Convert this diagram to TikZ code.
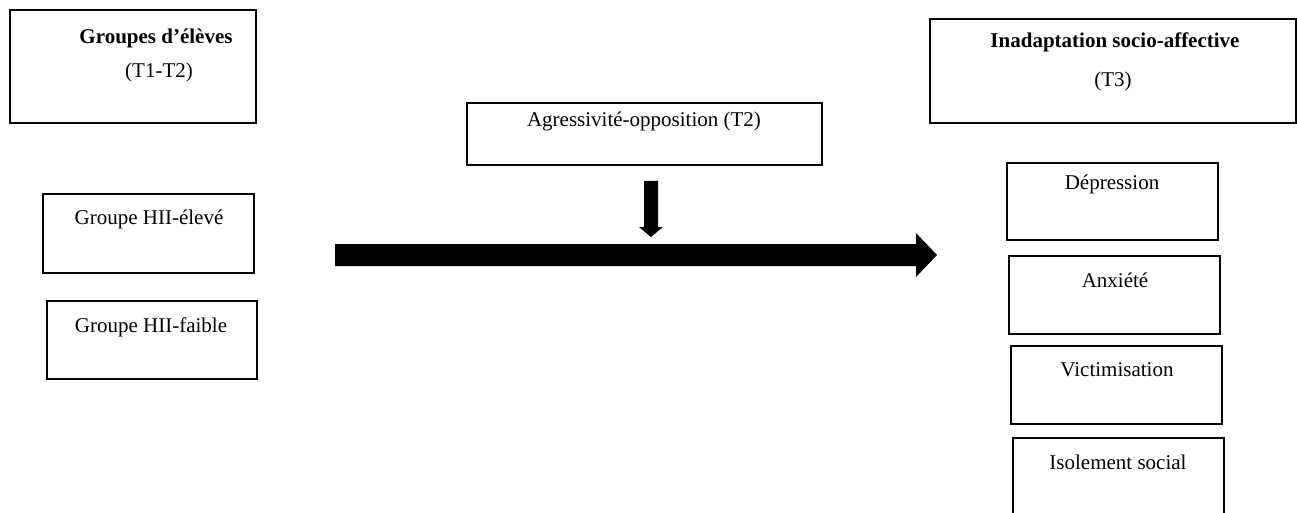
\documentclass[tikz,border=0pt]{standalone}
\usepackage{fontspec}
\setmainfont{Liberation Serif}
\begin{document}
\begin{tikzpicture}[x=1pt,y=-1pt,
  box/.style={draw=black,line width=2pt,fill=none},
  lbl/.style={inner sep=0pt,font=\fontsize{21}{25}\selectfont},
  blbl/.style={inner sep=0pt,font=\fontsize{21}{25}\selectfont\bfseries}]
\useasboundingbox (0,0) rectangle (1297,513);
\clip (0,0) rectangle (1297,513);
% left header
\draw[box] (10,10) rectangle (256,123);
\node[blbl] (g1t) at (156,38) {Groupes d’élèves};
\node[lbl] (g1s) at (159,72) {(T1-T2)};
% right header
\draw[box] (930,19) rectangle (1296,123);
\node[blbl] (int) at (1115,42) {Inadaptation socio-affective};
\node[lbl] (ins) at (1113,81) {(T3)};
% moderator
\draw[box] (467,103) rectangle (822,165);
\node[lbl] (agr) at (644,121) {Agressivité-opposition (T2)};
% left groups
\draw[box] (43,194) rectangle (254,273);
\node[lbl] (h1) at (149,219) {Groupe HII-élevé};
\draw[box] (47,301) rectangle (257,379);
\node[lbl] (h2) at (151,327) {Groupe HII-faible};
% right outcomes
\draw[box] (1007,163) rectangle (1218,240);
\node[lbl] (dep) at (1112,184) {Dépression};
\draw[box] (1009,256) rectangle (1220,334);
\node[lbl] (anx) at (1115,280) {Anxiété};
\draw[box] (1011,346) rectangle (1222,424);
\node[lbl] (vic) at (1117,370) {Victimisation};
\draw[box] (1013,438) rectangle (1224,530);
\node[lbl] (iso) at (1118,462) {Isolement social};
% small arrow
\coordinate (sa) at (651,181);
\coordinate (sb) at (651,237);
\fill[black] (644,181) -- (658,181) -- (658,227) -- (663,227) -- (sb) -- (639,227) -- (644,227) -- cycle;
% big arrow
\coordinate (ba) at (335,255);
\coordinate (bb) at (937,255);
\fill[black] (335,244) -- (916,244) -- (916,233) -- (bb) -- (916,277) -- (916,266) -- (335,266) -- cycle;
\end{tikzpicture}
\end{document}
